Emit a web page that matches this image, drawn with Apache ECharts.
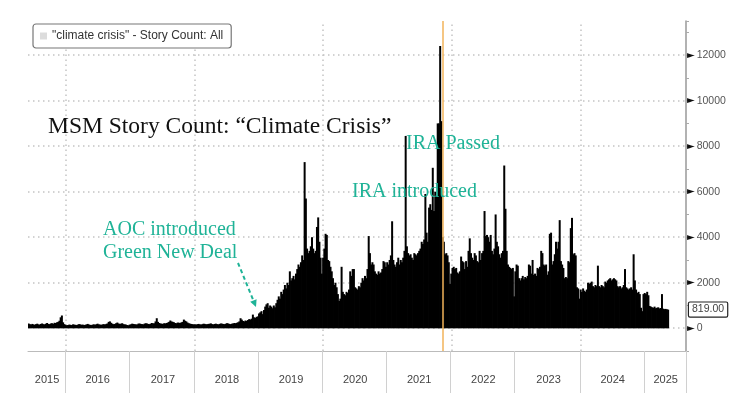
<!DOCTYPE html>
<html><head><meta charset="utf-8">
<script src="https://cdn.jsdelivr.net/npm/echarts@6/dist/echarts.min.js"></script>
<style>html,body{margin:0;padding:0;background:#fff}#c{width:750px;height:395px}</style>
</head><body><div id="c"></div>
<script>
// ---- data (weekly story counts) ----
const seriesName = '"climate crisis" - Story Count: All';
const startDate = '2015-06-07';
const axisEndDate = '2025-08-24';

const v2015 = [210,180,160,190,170,150,180,200,170,160,190,210,180,170,200,230,190,180,210,220,190,240,230,260,280,330,480,560,260,180];
const v2016 = [150,130,140,160,150,140,170,160,150,140,160,180,170,150,160,140,150,170,190,160,150,140,160,170,150,180,200,170,160,150,170,180,160,190,210,280,300,240,200,180,190,220,250,210,190,200,220,180,170,160,140,130];
const v2017 = [160,170,200,190,180,170,160,200,210,190,180,170,200,220,210,190,180,200,230,210,220,300,440,280,230,210,200,190,220,210,230,250,280,340,300,280,260,230,220,250,240,230,260,280,380,330,300,250,220,200,190,180,170];
const v2018 = [170,160,180,190,170,160,180,200,190,170,180,190,200,210,180,170,190,200,180,170,190,210,200,190,180,200,220,210,190,180,200,210,230,220,240,260,300,440,380,320,300,340,320,360,400,380,420,600,480,450,500,520];
const v2019 = [650,700,750,620,800,950,1050,1100,900,1000,950,880,1000,920,1100,1250,1400,1300,1600,1500,1700,1900,1750,2000,1900,2500,2100,2200,2300,2150,2400,2600,2800,2700,2900,3200,3000,7300,5700,3500,3300,3400,3600,4000,3500,3300,3400,4450,4870,3800,3100,2400];
const v2020 = [3100,3500,4150,4100,3000,2950,2700,2500,2200,1900,2000,1800,1500,1200,1300,2700,1600,1500,1450,1600,1550,1700,2500,2300,2600,2600,1800,1750,1700,1850,1800,2000,2200,2100,2300,2200,2600,4050,3300,2800,2900,2800,2500,2400,2350,2500,2400,2450,2600,2950,2900,2700];
const v2021 = [2900,2800,3000,3200,4700,3000,2800,2700,2900,3100,2800,3000,2900,3100,3400,8450,3600,3300,3200,3250,3100,3000,3300,3250,3200,3300,3400,3500,3800,3700,3900,5900,4200,3800,5300,5450,5200,7050,5150,6000,5800,9000,9000,12400,9100,4000,3800,3250,3300,3200,2900,1950];
const v2022 = [2400,2650,2700,2600,2650,2450,2400,2500,3150,2950,2900,2600,2950,2700,3400,3950,3300,3100,3000,3300,3200,2950,2900,3400,3000,3300,3400,5150,4050,4100,4000,3800,4100,3400,3250,3500,5000,3800,3600,3250,3100,3300,3400,7150,5250,3400,2800,2700,2650,2600,2650,1400];
const v2023 = [2500,2800,2750,2200,2100,2200,2300,2150,2250,2200,2300,2800,2750,2400,3000,2350,2400,2300,2650,2600,2700,3400,3300,2800,2750,2800,2350,2500,4150,4200,2800,2950,3250,3800,3500,3800,4750,2950,2800,2650,2200,2250,2200,2950,2900,4400,4850,3250,3300,3200,1800,1750,1300];
const v2024 = [1700,1600,1750,1650,1600,1700,2000,1950,2000,2050,1850,1800,1900,1850,2750,1850,1800,1900,1850,1800,2050,2000,2100,2150,2200,2100,2150,2200,2150,2100,1850,1800,1850,1750,1800,1900,2600,1800,1750,1700,1750,1800,1700,3250,2100,1700,1550,1600,1500,900,750,1500];
const v2025 = [1550,1500,1600,1450,980,950,920,900,950,880,900,920,870,890,1500,860,840,850,830,819];

const gridValues = [0, 2000, 4000, 6000, 8000, 10000, 12000];
const gridYears = [2016, 2018, 2020, 2022, 2024];
const markerDate = '2021-11-14';
const yMin = -1000, yMax = 13500, yStep = 1000, labelStep = 2000;

const title = 'MSM Story Count: \u201cClimate Crisis\u201d';
const notes = ['AOC introduced', 'Green New Deal', 'IRA Passed', 'IRA introduced'];

// ---- build ----
const values = [].concat(v2015, v2016, v2017, v2018, v2019, v2020, v2021, v2022, v2023, v2024, v2025);
const categories = [];
for (let t = Date.parse(startDate + 'T00:00:00Z'); t <= Date.parse(axisEndDate + 'T00:00:00Z'); t += 7 * 864e5) {
  categories.push(new Date(t).toISOString().slice(0, 10));
}
const firstIdx = {}, lastIdx = {};
categories.forEach((c, i) => { const y = +c.slice(0, 4); if (!(y in firstIdx)) firstIdx[y] = i; lastIdx[y] = i; });
const yearStarts = new Set(Object.keys(firstIdx).map(y => firstIdx[y]).filter(i => i > 0));
const labelIdx = new Set(Object.keys(firstIdx).map(y => Math.round((firstIdx[y] + lastIdx[y] + 1) / 2)));
const markerIdx = categories.findIndex(c => c >= markerDate);
const lastValue = values[values.length - 1];

const teal = '#1fb397';
const serif = '"Liberation Serif", "DejaVu Serif", serif';

const chart = echarts.init(document.getElementById('c'), null, { renderer: 'canvas' });
chart.setOption({
  animation: false,
  backgroundColor: '#fff',
  grid: { left: 28, right: 64, top: 21, bottom: 44 },
  legend: {
    left: 33, top: 24,
    data: [{ name: seriesName, itemStyle: { color: '#dcdcdc' } }],
    icon: 'rect', itemWidth: 7, itemHeight: 7,
    padding: [6, 8, 6, 7],
    backgroundColor: '#fff',
    borderColor: '#777', borderWidth: 1.2, borderRadius: 3,
    selectedMode: false,
    textStyle: { fontSize: 12, color: '#333', fontFamily: 'Liberation Sans' }
  },
  xAxis: {
    type: 'category', data: categories, boundaryGap: true,
    axisLine: { onZero: false, lineStyle: { color: '#bbb', width: 1 } },
    axisTick: { show: true, interval: (i) => yearStarts.has(i), length: 42, lineStyle: { color: '#d0d0d0', width: 1 } },
    axisLabel: { interval: (i) => labelIdx.has(i), formatter: (v) => v.slice(0, 4), margin: 23, color: '#444', fontSize: 11, fontFamily: 'Liberation Sans' },
    splitLine: { show: false }
  },
  yAxis: {
    type: 'value', position: 'right', min: yMin, max: yMax, interval: yStep,
    axisLine: { show: true, lineStyle: { color: '#999', width: 1.5 } },
    axisTick: { show: true, length: 3, lineStyle: { color: '#aaa' } },
    axisLabel: {
      margin: 1,
      formatter: (v) => (v >= 0 && v % labelStep === 0 && v <= 12000) ? '{t|\u25BA}{v|' + v + '}' : '',
      rich: {
        t: { fontSize: 10, color: '#111', padding: [0, 2, 0, 0], fontFamily: 'DejaVu Sans' },
        v: { fontSize: 10.5, color: '#555', fontFamily: 'Liberation Sans' }
      }
    },
    splitLine: { show: false }
  },
  series: [
    {
      type: 'bar', name: seriesName, data: values,
      barWidth: 2, barGap: '0%',
      itemStyle: { color: '#000' }, z: 2,
      markLine: {
        z: 1, silent: true, symbol: ['none', 'none'], animation: false,
        label: { show: false },
        lineStyle: { type: [1.5, 3.5], color: '#c4c4c4', width: 1.5 },
        data: gridValues.map(v => ({ yAxis: v })).concat(gridYears.map(y => ({ xAxis: firstIdx[y] })))
      }
    },
    {
      type: 'line', name: 'markers', data: [], silent: true,
      markLine: {
        z: 6, silent: true, symbol: ['none', 'none'], animation: false,
        data: [
          { xAxis: markerIdx, lineStyle: { color: '#f2b35a', width: 1.5, type: 'solid' }, label: { show: false } },
          { yAxis: lastValue, lineStyle: { color: 'transparent', width: 0 },
            label: { show: true, position: 'end', distance: 3, formatter: lastValue.toFixed(2),
              backgroundColor: '#fff', borderColor: '#222', borderWidth: 1.2, borderRadius: 1,
              padding: [2, 3, 1, 3], fontSize: 10.5, color: '#444', fontFamily: 'Liberation Sans' } }
        ]
      }
    }
  ],
  graphic: [
    { type: 'text', x: 48, y: 127, z: 10, style: { text: title, font: '23.5px ' + serif, fill: '#111', verticalAlign: 'middle' } },
    { type: 'text', x: 103, y: 229.5, z: 10, style: { text: notes[0], font: '20px ' + serif, fill: teal, verticalAlign: 'middle' } },
    { type: 'text', x: 103, y: 253, z: 10, style: { text: notes[1], font: '20px ' + serif, fill: teal, verticalAlign: 'middle' } },
    { type: 'text', x: 406, y: 143.5, z: 10, style: { text: notes[2], font: '20px ' + serif, fill: teal, verticalAlign: 'middle' } },
    { type: 'text', x: 352, y: 191.5, z: 10, style: { text: notes[3], font: '20px ' + serif, fill: teal, verticalAlign: 'middle' } },
    { type: 'polyline', z: 10, shape: { points: [[238, 263], [253.4, 300.5]] }, style: { stroke: teal, lineWidth: 2, lineDash: [4, 3], fill: null } },
    { type: 'polygon', z: 10, shape: { points: [[256, 307], [250.2, 301.8], [256.6, 299.2]] }, style: { fill: teal } }
  ]
});
</script>
</body></html>
